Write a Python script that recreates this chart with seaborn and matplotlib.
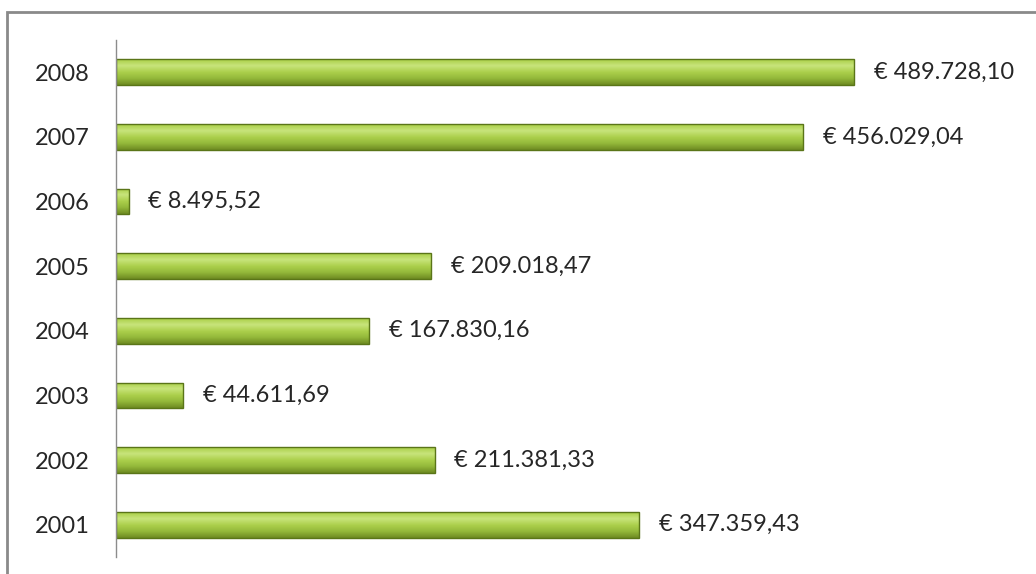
import numpy as np
import pandas as pd
import seaborn as sns
import matplotlib.pyplot as plt
from matplotlib.patches import Rectangle
from matplotlib.colors import LinearSegmentedColormap

# Data
years = ['2008', '2007', '2006', '2005', '2004', '2003', '2002', '2001']
amounts = [489728.10, 456029.04, 8495.52, 209018.47, 167830.16, 44611.69, 211381.33, 347359.43]
labels = ['€ 489.728,10', '€ 456.029,04', '€ 8.495,52', '€ 209.018,47',
          '€ 167.830,16', '€ 44.611,69', '€ 211.381,33', '€ 347.359,43']

df = pd.DataFrame({'year': years, 'amount': amounts})

sns.set_style('white')
plt.rcParams['font.family'] = ['Lato', 'DejaVu Sans']

fig = plt.figure(figsize=(10.36, 5.74), dpi=100)
ax = fig.add_axes([116 / 1036, 1 - 557 / 574, (1000 - 116) / 1036, (557 - 40) / 574])

sns.barplot(data=df, y='year', x='amount', orient='h', order=years,
            color='#9cc23c', edgecolor='#5a7518', linewidth=1.0,
            width=0.4, saturation=1, ax=ax)

# vertical green gradient inside each bar (light top, dark bottom)
grad = LinearSegmentedColormap.from_list(
    'bar', ['#a9cf45', '#c8e47c', '#acd04c', '#93b83a', '#6e8b22'])
ramp = np.linspace(0, 1, 64).reshape(-1, 1)
for p in list(ax.patches):
    x0, y0 = p.get_x(), p.get_y()
    w, h = p.get_width(), p.get_height()
    im = ax.imshow(ramp, cmap=grad, aspect='auto', origin='upper',
                   extent=(x0, x0 + w, y0 + h, y0), zorder=p.get_zorder() + 0.1,
                   interpolation='bilinear')
    im.set_clip_path(p)
    p.set_facecolor('none')
    p.set_zorder(p.get_zorder() + 0.2)

for i, (v, lab) in enumerate(zip(amounts, labels)):
    ax.text(v + 13000, i, lab, va='center', ha='left', fontsize=17, color='#262626')

ax.set_xlim(0, (1000 - 116) / 0.001507)
ax.set_ylim(7.5, -0.5)
ax.set_xlabel('')
ax.set_ylabel('')
ax.set_xticks([])
ax.tick_params(axis='y', length=0, pad=19, labelsize=17, labelcolor='#262626')
for side in ['top', 'right', 'bottom']:
    ax.spines[side].set_visible(False)
ax.spines['left'].set_color('#8c8c8c')
ax.spines['left'].set_linewidth(1.0)

# outer frame of the chart area
fig.patches.append(Rectangle((7 / 1036, -0.05), 1.1, 1 - 12 / 574 + 0.05,
                             transform=fig.transFigure, fill=False,
                             edgecolor='#8a8a8a', linewidth=2.0))

fig.savefig('out.png', dpi=100)
